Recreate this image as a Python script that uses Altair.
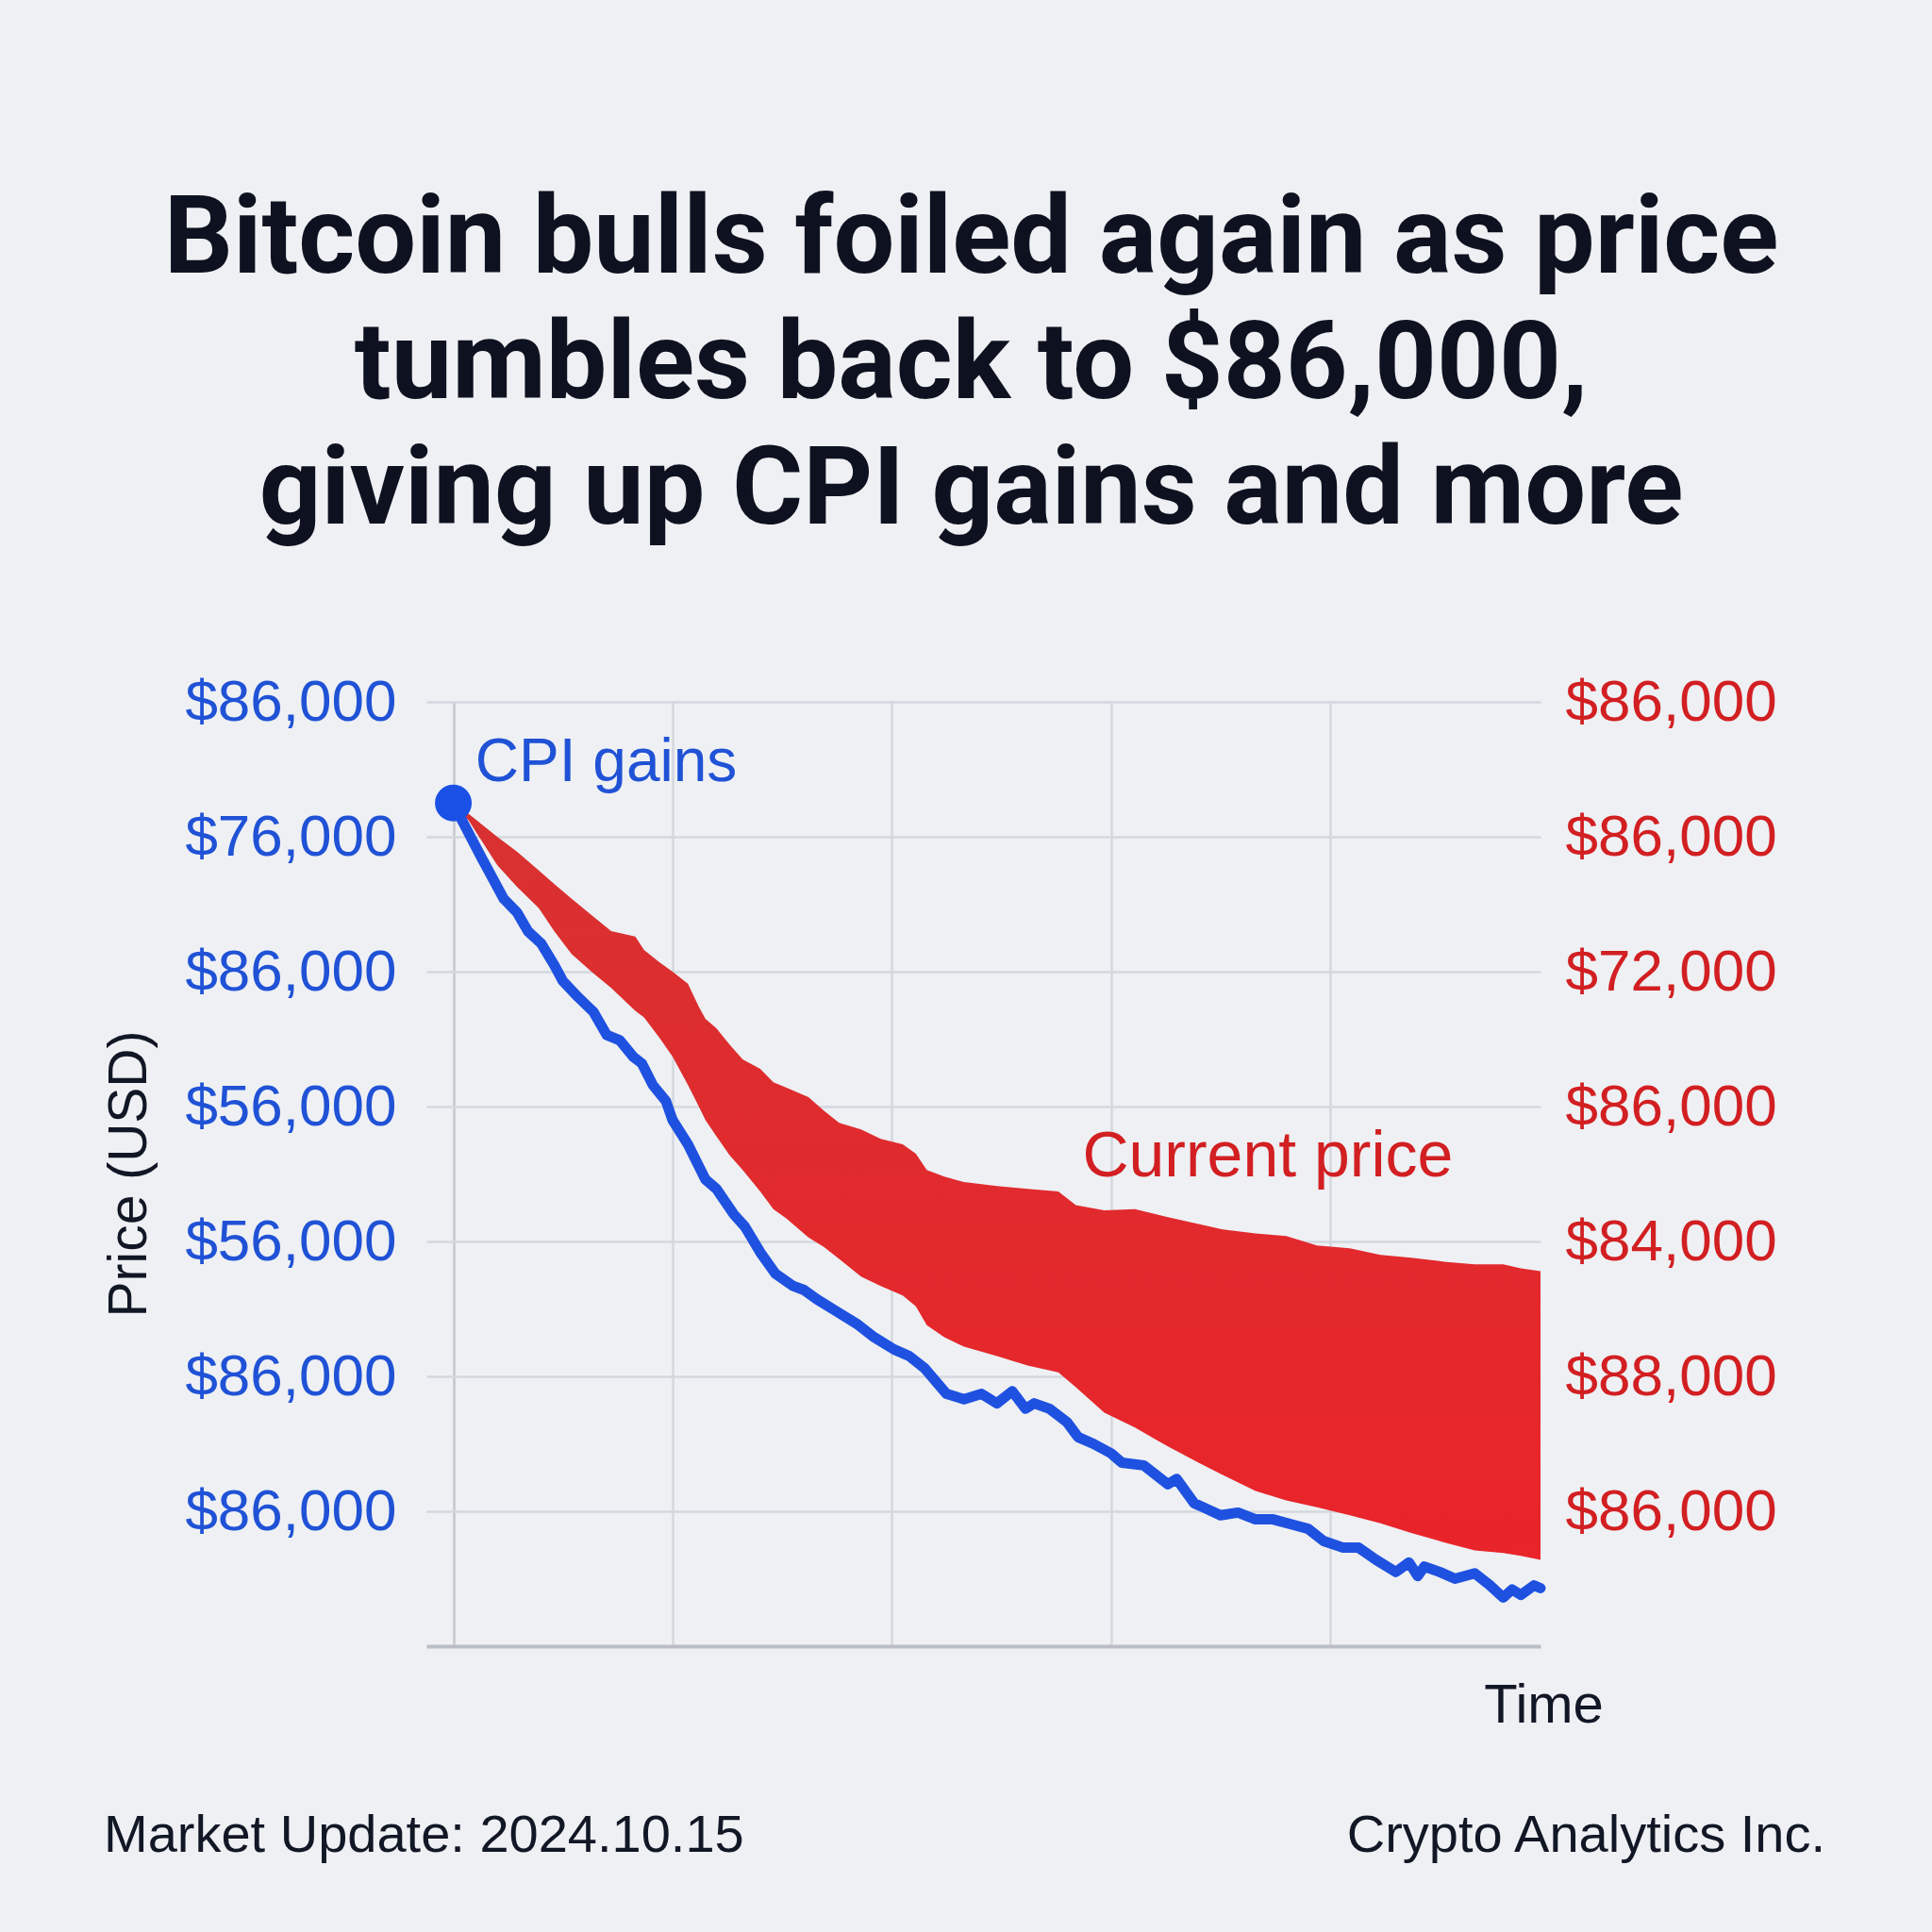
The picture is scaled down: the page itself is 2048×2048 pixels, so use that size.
import altair as alt
import pandas as pd

# ---------------- data ----------------
# x: time position (gridline units), y: price level (gridline units)
blue_t = [0, 0.04, 0.13, 0.23, 0.29, 0.34, 0.40, 0.46, 0.50, 0.57,
          0.64, 0.70, 0.76, 0.82, 0.86, 0.91, 0.97, 1.00, 1.07, 1.15,
          1.20, 1.28, 1.33, 1.40, 1.47, 1.55, 1.60, 1.66, 1.75, 1.84,
          1.92, 2.01, 2.08, 2.15, 2.25, 2.33, 2.41, 2.48, 2.55, 2.61,
          2.65, 2.72, 2.80, 2.85, 2.92, 3.00, 3.05, 3.15, 3.26, 3.30,
          3.38, 3.50, 3.58, 3.66, 3.74, 3.83, 3.90, 3.97, 4.06, 4.13,
          4.21, 4.30, 4.36, 4.40, 4.43, 4.50, 4.57, 4.66, 4.73, 4.79,
          4.83, 4.87, 4.93, 4.96]
blue_v = [6.25, 6.12, 5.84, 5.54, 5.44, 5.30, 5.21, 5.05, 4.93, 4.81,
          4.70, 4.53, 4.49, 4.37, 4.32, 4.16, 4.04, 3.90, 3.72, 3.46,
          3.39, 3.20, 3.11, 2.92, 2.76, 2.67, 2.64, 2.57, 2.48, 2.39,
          2.29, 2.20, 2.15, 2.06, 1.87, 1.83, 1.87, 1.80, 1.89, 1.76,
          1.80, 1.76, 1.66, 1.55, 1.50, 1.43, 1.36, 1.34, 1.20, 1.24,
          1.06, 0.97, 0.99, 0.94, 0.94, 0.90, 0.87, 0.78, 0.73, 0.73,
          0.64, 0.55, 0.62, 0.52, 0.59, 0.55, 0.50, 0.54, 0.45, 0.36,
          0.42, 0.38, 0.45, 0.43]

band_t = [0.02, 0.07, 0.20, 0.29, 0.39, 0.46, 0.54, 0.63, 0.72, 0.83,
          0.87, 0.94, 1.00, 1.07, 1.12, 1.15, 1.20, 1.26, 1.32, 1.40,
          1.46, 1.52, 1.62, 1.69, 1.76, 1.86, 1.95, 2.05, 2.11, 2.16,
          2.24, 2.33, 2.48, 2.62, 2.76, 2.84, 2.97, 3.11, 3.26, 3.40,
          3.51, 3.66, 3.80, 3.94, 4.09, 4.23, 4.37, 4.52, 4.66, 4.79,
          4.87, 4.96]
band_hi = [6.22, 6.17, 6.00, 5.89, 5.75, 5.65, 5.54, 5.42, 5.30, 5.26,
           5.16, 5.07, 5.00, 4.91, 4.74, 4.65, 4.58, 4.46, 4.35, 4.28,
           4.18, 4.14, 4.07, 3.97, 3.88, 3.83, 3.76, 3.72, 3.65, 3.53,
           3.48, 3.44, 3.41, 3.39, 3.37, 3.27, 3.23, 3.24, 3.18, 3.13,
           3.09, 3.06, 3.04, 2.97, 2.95, 2.90, 2.88, 2.85, 2.83, 2.83,
           2.80, 2.78]
band_lo = [6.20, 6.12, 5.79, 5.63, 5.47, 5.30, 5.13, 5.00, 4.88, 4.71,
           4.66, 4.51, 4.37, 4.16, 4.00, 3.90, 3.78, 3.64, 3.53, 3.37,
           3.24, 3.17, 3.03, 2.96, 2.87, 2.74, 2.67, 2.60, 2.52, 2.38,
           2.29, 2.22, 2.15, 2.08, 2.03, 1.92, 1.73, 1.62, 1.48, 1.36,
           1.27, 1.15, 1.08, 1.03, 0.97, 0.91, 0.84, 0.77, 0.71, 0.69,
           0.67, 0.64]

# tick labels, index = gridline level 0..7 (bottom to top)
left_labels = ["", "$86,000", "$86,000", "$56,000", "$56,000",
               "$86,000", "$76,000", "$86,000"]
right_labels = ["", "$86,000", "$88,000", "$84,000", "$86,000",
                "$72,000", "$86,000", "$86,000"]
y_ticks = [1, 2, 3, 4, 5, 6, 7]
x_ticks = [0, 1, 2, 3, 4]

title_lines = ["Bitcoin bulls foiled again as price",
               "tumbles back to $86,000,",
               "giving up CPI gains and more"]

# ---------------- styling ----------------
BG = "#eef0f3"
BLUE = "#1f51e0"
BLUE_TXT = "#2052d6"
RED_TXT = "#d21f22"
INK = "#121726"
GRID = "#d3d8df"
FONT = "Liberation Sans"

blue_df = pd.DataFrame({"t": blue_t, "v": blue_v})
band_df = pd.DataFrame({"t": band_t, "hi": band_hi, "lo": band_lo})
dot_df = pd.DataFrame({"t": [blue_t[0]], "v": [blue_v[0]]})
cpi_df = pd.DataFrame({"t": [0.10], "v": [6.41], "label": ["CPI gains"]})
cur_df = pd.DataFrame({"t": [2.87], "v": [3.48], "label": ["Current price"]})
foot_df = pd.DataFrame({"a": [1]})

xscale = alt.Scale(domain=[-0.123, 4.96], nice=False, zero=False)
yscale = alt.Scale(domain=[0, 7], nice=False, zero=False)


def lab_expr(labels):
    return "[" + ",".join("'%s'" % s for s in labels) + "][datum.value]"


x_axis = alt.Axis(values=x_ticks, grid=True,
                  gridColor={"condition": {"test": "datum.value == 0", "value": "#c3c8cf"},
                             "value": GRID},
                  gridWidth=2.5, labels=False, ticks=False, domain=True,
                  domainColor="#b9bec6", domainWidth=4,
                  title="Time", titleFont=FONT, titleFontSize=58,
                  titleFontWeight="normal", titleColor=INK,
                  titleX=1184, titleY=80, titleAlign="center",
                  titleBaseline="alphabetic")

left_axis = alt.Axis(orient="left", values=y_ticks, grid=True, gridColor=GRID,
                     gridWidth=2.5, domain=False, ticks=False, tickSize=0,
                     labelExpr=lab_expr(left_labels), labelFont=FONT,
                     labelFontSize=62, labelColor=BLUE_TXT, labelPadding=32,
                     labelLimit=1000,
                     title="Price (USD)", titleFont=FONT, titleFontSize=57,
                     titleFontWeight="normal", titleColor=INK, titleAngle=270,
                     titleX=-315, titleY=500, titleAlign="center",
                     titleBaseline="middle")

right_axis = alt.Axis(orient="right", values=y_ticks, grid=False, domain=False,
                      ticks=False, tickSize=0, labelExpr=lab_expr(right_labels),
                      labelFont=FONT, labelFontSize=62, labelColor=RED_TXT,
                      labelPadding=26, labelAlign="left", labelLimit=1000,
                      title=None)

red_fill = alt.Gradient(gradient="linear",
                        stops=[alt.GradientStop(color="#d83131", offset=0),
                               alt.GradientStop(color="#e9242a", offset=1)],
                        x1=0, x2=0, y1=0, y2=1)

band = alt.Chart(band_df).mark_area(color=red_fill, interpolate="linear").encode(
    x=alt.X("t:Q", scale=xscale, axis=x_axis),
    y=alt.Y("hi:Q", scale=yscale, axis=left_axis),
    y2="lo:Q",
)

line = alt.Chart(blue_df).mark_line(color=BLUE, strokeWidth=11, strokeJoin="round",
                                    strokeCap="round").encode(
    x=alt.X("t:Q", scale=xscale),
    y=alt.Y("v:Q", scale=yscale, axis=right_axis),
)

dot = alt.Chart(dot_df).mark_circle(size=1520, color="#1a50e6", opacity=1).encode(
    x=alt.X("t:Q", scale=xscale),
    y=alt.Y("v:Q", scale=yscale, axis=None),
)

cpi = alt.Chart(cpi_df).mark_text(font=FONT, fontSize=64, color=BLUE_TXT,
                                  align="left", baseline="alphabetic").encode(
    x=alt.X("t:Q", scale=xscale),
    y=alt.Y("v:Q", scale=yscale, axis=None),
    text="label:N",
)

cur = alt.Chart(cur_df).mark_text(font=FONT, fontSize=68, color=RED_TXT,
                                  align="left", baseline="alphabetic").encode(
    x=alt.X("t:Q", scale=xscale),
    y=alt.Y("v:Q", scale=yscale, axis=None),
    text="label:N",
)

foot_left = alt.Chart(foot_df).mark_text(
    text="Market Update: 2024.10.15", font=FONT, fontSize=56, color=INK,
    align="left", baseline="alphabetic").encode(x=alt.value(-342), y=alt.value(1219))

foot_right = alt.Chart(foot_df).mark_text(
    text="Crypto Analytics Inc.", font=FONT, fontSize=56, color=INK,
    align="right", baseline="alphabetic").encode(x=alt.value(1483), y=alt.value(1219))

chart = alt.layer(band, line, dot, cpi, cur, foot_left, foot_right).resolve_scale(
    y="independent"
).properties(
    width=1181,
    height=1001,
    padding={"left": 452, "top": 744, "right": 415, "bottom": 303},
    autosize=alt.AutoSizeParams(type="none"),
    background=BG,
    title=alt.Title(text=title_lines, font="Roboto", fontWeight="bold",
                    fontSize=115, lineHeight=133, color="#0e1220",
                    anchor="middle", frame="group", dx=-13, offset=134),
).configure_view(stroke=None)

chart.save("out.html", embed_options={"renderer": "svg", "actions": False})
